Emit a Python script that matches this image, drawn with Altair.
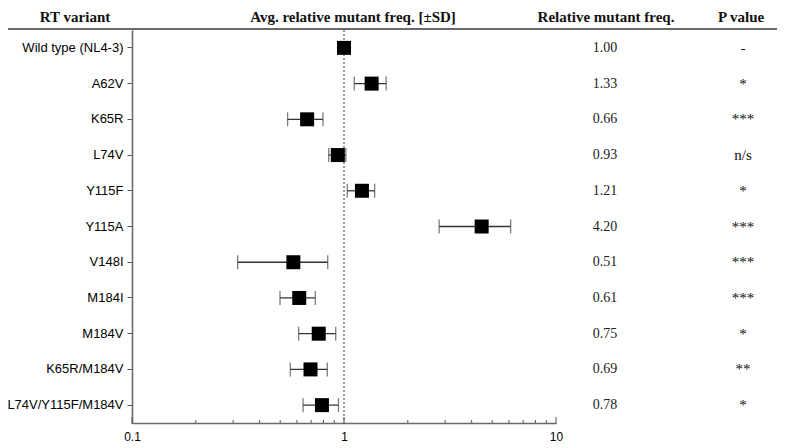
import altair as alt
import pandas as pd

variants = ["Wild type (NL4-3)", "A62V", "K65R", "L74V", "Y115F", "Y115A",
            "V148I", "M184I", "M184V", "K65R/M184V", "L74V/Y115F/M184V"]
avg_freq = [1.00, 1.35, 0.67, 0.935, 1.215, 4.46, 0.577, 0.615, 0.76, 0.695, 0.787]
sd_low = [1.00, 1.118, 0.542, 0.847, 1.036, 2.81, 0.315, 0.499, 0.611, 0.558, 0.641]
sd_high = [1.00, 1.58, 0.796, 1.02, 1.395, 6.11, 0.838, 0.732, 0.914, 0.834, 0.942]
rel_freq_text = ["1.00", "1.33", "0.66", "0.93", "1.21", "4.20", "0.51", "0.61", "0.75", "0.69", "0.78"]
p_text = ["-", "*", "***", "n/s", "*", "***", "***", "***", "*", "**", "*"]
has_err = [False, True, True, True, True, True, True, True, True, True, True]

major_ticks = [0.1, 1, 10]
minor_ticks = [0.2, 0.3, 0.4, 0.5, 0.6, 0.7, 0.8, 0.9, 2, 3, 4, 5, 6, 7, 8, 9]

df = pd.DataFrame({
    "variant": variants, "avg": avg_freq, "lo": sd_low, "hi": sd_high,
    "rel": rel_freq_text, "p": p_text, "err": has_err,
})
err_df = df[df["err"]]

W, H = 424, 393
xscale = alt.Scale(type="log", domain=[0.1, 10], nice=False)
yscale = alt.Scale(domain=variants, paddingInner=0, paddingOuter=0)
SANS = "Liberation Sans"
SERIF = "Liberation Serif"

y_enc = alt.Y("variant:N", scale=yscale, sort=variants,
              axis=alt.Axis(title=None, labelFont=SANS, labelFontSize=13, labelColor="black",
                            domainColor="#6a6a6a", domainWidth=1.6, tickColor="#555",
                            tickSize=5, tickWidth=1, labelPadding=4))

x_axis = alt.Axis(title=None, values=major_ticks, format="~g", labelFont=SANS, labelFontSize=12,
                  labelColor="black", domainColor="#6a6a6a", domainWidth=1.4, ticks=False,
                  labelPadding=8, grid=False, labelFlush=False)

ref_line = alt.Chart(pd.DataFrame({"v": [1.0]})).mark_rule(
    color="#333", strokeWidth=1, strokeDash=[2, 2]).encode(
    x=alt.X("v:Q", scale=xscale, axis=x_axis))

bars = alt.Chart(err_df).mark_rule(color="#333", strokeWidth=1.3).encode(
    x=alt.X("lo:Q", scale=xscale), x2="hi:Q", y=y_enc)

caps_lo = alt.Chart(err_df).mark_tick(color="#444", thickness=1.3, size=14).encode(
    x=alt.X("lo:Q", scale=xscale), y=alt.Y("variant:N", scale=yscale, sort=variants))
caps_hi = alt.Chart(err_df).mark_tick(color="#444", thickness=1.3, size=14).encode(
    x=alt.X("hi:Q", scale=xscale), y=alt.Y("variant:N", scale=yscale, sort=variants))

squares = alt.Chart(df).mark_square(size=196, color="black", opacity=1).encode(
    x=alt.X("avg:Q", scale=xscale), y=alt.Y("variant:N", scale=yscale, sort=variants))

major_tk = alt.Chart(pd.DataFrame({"t": major_ticks})).mark_rule(color="#555", strokeWidth=1).encode(
    x=alt.X("t:Q", scale=xscale), y=alt.value(H - 6), y2=alt.value(H + 1))
minor_tk = alt.Chart(pd.DataFrame({"t": minor_ticks})).mark_rule(color="#555", strokeWidth=1).encode(
    x=alt.X("t:Q", scale=xscale), y=alt.value(H - 3), y2=alt.value(H))

rel_txt = alt.Chart(df).mark_text(font=SERIF, fontSize=14, color="#222").encode(
    x=alt.value(473), y=alt.Y("variant:N", scale=yscale, sort=variants), text="rel:N")
p_txt = alt.Chart(df).mark_text(font=SERIF, fontSize=15, color="#111").encode(
    x=alt.value(611), y=alt.Y("variant:N", scale=yscale, sort=variants), text="p:N")

def header(txt, xpos):
    return alt.Chart(pd.DataFrame({"h": [txt]})).mark_text(
        font=SERIF, fontSize=15, fontWeight="bold", color="#111").encode(
        x=alt.value(xpos), y=alt.value(-13), text="h:N")

headers = [header("RT variant", -57), header("Avg. relative mutant freq. [±SD]", 221),
           header("Relative mutant freq.", 474), header("P value", 609)]

top_line = alt.Chart(pd.DataFrame({"a": [0]})).mark_rule(color="#6a6a6a", strokeWidth=1.8).encode(
    x=alt.value(-124), x2=alt.value(646), y=alt.value(-1))

chart = alt.layer(ref_line, bars, caps_lo, caps_hi, squares, major_tk, minor_tk,
                  rel_txt, p_txt, top_line, *headers).properties(
    width=W, height=H,
    autosize=alt.AutoSizeParams(type="none"),
    padding={"left": 124, "top": 22, "right": 221, "bottom": 22},
).configure_view(strokeWidth=0)

chart.save("out.html", embed_options={"renderer": "svg", "actions": False})
